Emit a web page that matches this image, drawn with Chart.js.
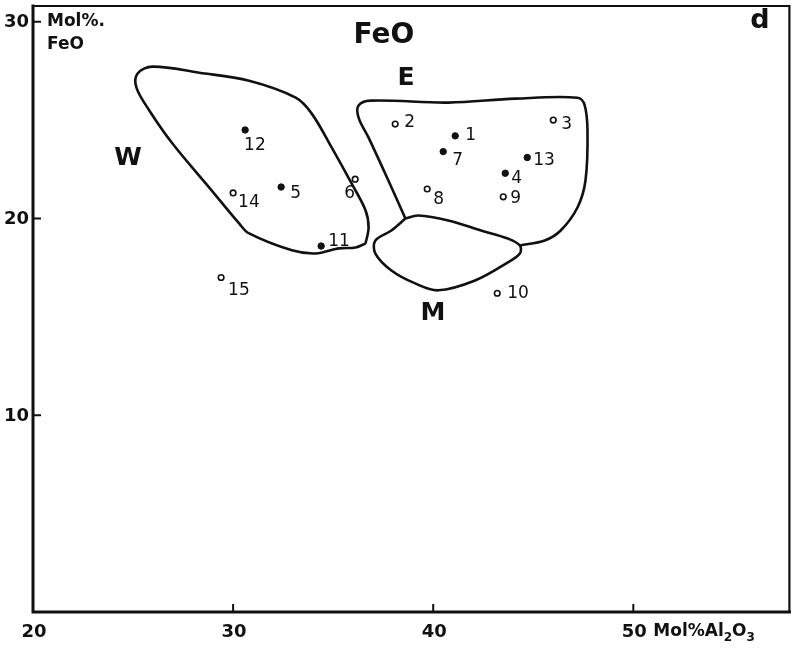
<!DOCTYPE html>
<html>
<head>
<meta charset="utf-8">
<script src="https://cdn.jsdelivr.net/npm/chart.js@4.4.1/dist/chart.umd.min.js"></script>
<style>
  html, body { margin: 0; padding: 0; background: #fff; }
  #wrap { width: 795px; height: 648px; }
</style>
</head>
<body>
<div id="wrap"><canvas id="feoChart" width="795" height="648"></canvas></div>
<script>
// Amostras: Al2O3 (x) vs FeO (y), mol %
const sampleIds = ['1', '2', '3', '4', '5', '6', '7', '8', '9', '10', '11', '12', '13', '14', '15'];
const al2o3 = [41.1, 38.1, 46.0, 43.6, 32.4, 36.1, 40.5, 39.7, 43.5, 43.2, 34.4, 30.6, 44.7, 30.0, 29.4];
const feo = [24.2, 24.8, 25.0, 22.3, 21.6, 22.0, 23.4, 21.5, 21.1, 16.2, 18.6, 24.5, 23.1, 21.3, 17.0];
const sampleType = ['solid', 'open', 'open', 'solid', 'solid', 'open', 'solid', 'open', 'open', 'open', 'solid', 'solid', 'solid', 'open', 'open'];

// Campos W, E, M (contornos)
const fieldW_x = [36.62, 36.12, 35.27, 34.13, 32.94, 30.80, 30.30, 28.81, 26.97, 25.82, 25.17, 25.22, 25.97, 28.31, 30.80, 33.13, 33.93, 34.93, 35.92, 36.62, 36.77, 36.62];
const fieldW_y = [18.73, 18.53, 18.48, 18.22, 18.38, 19.24, 19.75, 21.57, 23.81, 25.48, 26.65, 27.36, 27.72, 27.41, 27.00, 26.14, 25.33, 23.60, 21.78, 20.41, 19.54, 18.73];
const fieldE_x = [38.61, 37.76, 36.77, 36.27, 36.27, 36.87, 40.75, 44.08, 47.21, 47.56, 47.71, 47.61, 47.21, 46.37, 45.57, 44.33];
const fieldE_y = [20.00, 21.93, 24.11, 25.13, 25.74, 25.99, 25.89, 26.09, 26.14, 25.79, 24.47, 21.93, 20.56, 19.39, 18.88, 18.63];
const fieldM_x = [38.61, 39.25, 40.75, 42.39, 43.73, 44.33, 44.33, 43.73, 42.09, 40.25, 39.10, 37.91, 37.11, 37.11, 37.91, 38.61];
const fieldM_y = [20.00, 20.15, 19.90, 19.39, 18.98, 18.63, 18.22, 17.77, 16.85, 16.35, 16.70, 17.36, 18.22, 18.88, 19.39, 20.00];

const xTicks = [30, 40, 50];
const yTicks = [10, 20, 30];

// Deslocamento dos rótulos (px) em relação a cada ponto
const labelOffset = {
    '1': [10, 0], '2': [9, -1], '3': [8, 4], '4': [6, 5], '5': [9, 7],
    '6': [-11, 14], '7': [9, 9], '8': [6, 11], '9': [7, 2], '10': [10, 0],
    '11': [7, -4], '12': [-1, 16], '13': [6, 3], '14': [5, 10], '15': [7, 13]
};

const FONT = '"DejaVu Sans", sans-serif';

function toXY(xs, ys) {
    return xs.map((x, i) => ({ x: x, y: ys[i] }));
}

function fieldDataset(xs, ys) {
    return {
        type: 'line',
        data: toXY(xs, ys),
        borderColor: '#111',
        borderWidth: 2.6,
        pointRadius: 0,
        fill: false,
        tension: 0.35,
        showLine: true
    };
}

const solidPts = [], openPts = [];
sampleIds.forEach((id, i) => {
    const p = { x: al2o3[i], y: feo[i], id: id };
    (sampleType[i] === 'solid' ? solidPts : openPts).push(p);
});

const framePlugin = {
    id: 'frame',
    afterDraw(chart) {
        const { ctx, chartArea: a, scales } = chart;
        const xs = scales.x, ys = scales.y;
        ctx.save();
        ctx.strokeStyle = '#111';
        ctx.lineCap = 'square';
        // moldura
        ctx.lineWidth = 3;
        ctx.beginPath();
        ctx.moveTo(a.left, a.top);
        ctx.lineTo(a.left, a.bottom);
        ctx.lineTo(a.right, a.bottom);
        ctx.stroke();
        ctx.lineWidth = 2.2;
        ctx.beginPath();
        ctx.moveTo(a.left, a.top);
        ctx.lineTo(a.right, a.top);
        ctx.lineTo(a.right, a.bottom);
        ctx.stroke();

        // marcas internas
        ctx.lineWidth = 2;
        xTicks.forEach(v => {
            const px = xs.getPixelForValue(v);
            ctx.beginPath();
            ctx.moveTo(px, a.bottom);
            ctx.lineTo(px, a.bottom - 7);
            ctx.stroke();
        });
        yTicks.forEach(v => {
            const py = ys.getPixelForValue(v);
            ctx.beginPath();
            ctx.moveTo(a.left, py);
            ctx.lineTo(a.left + 7, py);
            ctx.stroke();
        });

        // rótulos dos eixos
        ctx.fillStyle = '#111';
        ctx.font = 'bold 18px ' + FONT;
        ctx.textBaseline = 'middle';
        ctx.textAlign = 'center';
        [20].concat(xTicks).forEach(v => {
            ctx.fillText(String(v), xs.getPixelForValue(v) + 1, a.bottom + 20);
        });
        ctx.textAlign = 'right';
        yTicks.forEach(v => {
            ctx.fillText(String(v), a.left - 4, ys.getPixelForValue(v) + 1);
        });

        // título do eixo x: Mol% Al2O3 com subscritos
        ctx.textAlign = 'left';
        let tx = xs.getPixelForValue(50) + 20;
        const ty = a.bottom + 20;
        const parts = [['Mol%Al', 0], ['2', 1], ['O', 0], ['3', 1]];
        parts.forEach(([t, sub]) => {
            ctx.font = sub ? 'bold 12px ' + FONT : 'bold 17px ' + FONT;
            ctx.fillText(t, tx, ty + (sub ? 6 : 0));
            tx += ctx.measureText(t).width;
        });

        // título do eixo y
        ctx.font = 'bold 17px ' + FONT;
        ctx.fillText('Mol%.', a.left + 14, 22);
        ctx.fillText('FeO', a.left + 14, 45);

        // textos do gráfico
        ctx.textAlign = 'center';
        ctx.font = 'bold 28px ' + FONT;
        ctx.fillText('FeO', 384, 36);
        ctx.font = 'bold 27px ' + FONT;
        ctx.fillText('d', 760, 21);
        ctx.font = 'bold 25px ' + FONT;
        ctx.fillText('W', 128, 158);
        ctx.fillText('E', 406, 78);
        ctx.fillText('M', 433, 313);

        // rótulos das amostras
        ctx.font = '17px ' + FONT;
        ctx.textAlign = 'left';
        sampleIds.forEach((id, i) => {
            const px = xs.getPixelForValue(al2o3[i]);
            const py = ys.getPixelForValue(feo[i]);
            const off = labelOffset[id];
            ctx.fillText(id, px + off[0], py + off[1]);
        });
        ctx.restore();
    }
};

const ctx = document.getElementById('feoChart').getContext('2d');
const feoChart = new Chart(ctx, {
    type: 'scatter',
    data: {
        datasets: [
            fieldDataset(fieldW_x, fieldW_y),
            fieldDataset(fieldE_x, fieldE_y),
            fieldDataset(fieldM_x, fieldM_y),
            {
                data: solidPts,
                pointRadius: 3.2,
                pointBackgroundColor: '#111',
                pointBorderColor: '#111',
                pointBorderWidth: 1
            },
            {
                data: openPts,
                pointRadius: 2.8,
                pointBackgroundColor: '#fff',
                pointBorderColor: '#111',
                pointBorderWidth: 1.6
            }
        ]
    },
    options: {
        responsive: false,
        animation: false,
        devicePixelRatio: 1,
        layout: { padding: { left: 33, right: 2, top: 6, bottom: 36 } },
        plugins: { legend: { display: false }, tooltip: { enabled: false } },
        scales: {
            x: { type: 'linear', min: 20, max: 57.8, display: false },
            y: { type: 'linear', min: 0, max: 30.8, display: false }
        }
    },
    plugins: [framePlugin]
});
</script>
</body>
</html>
